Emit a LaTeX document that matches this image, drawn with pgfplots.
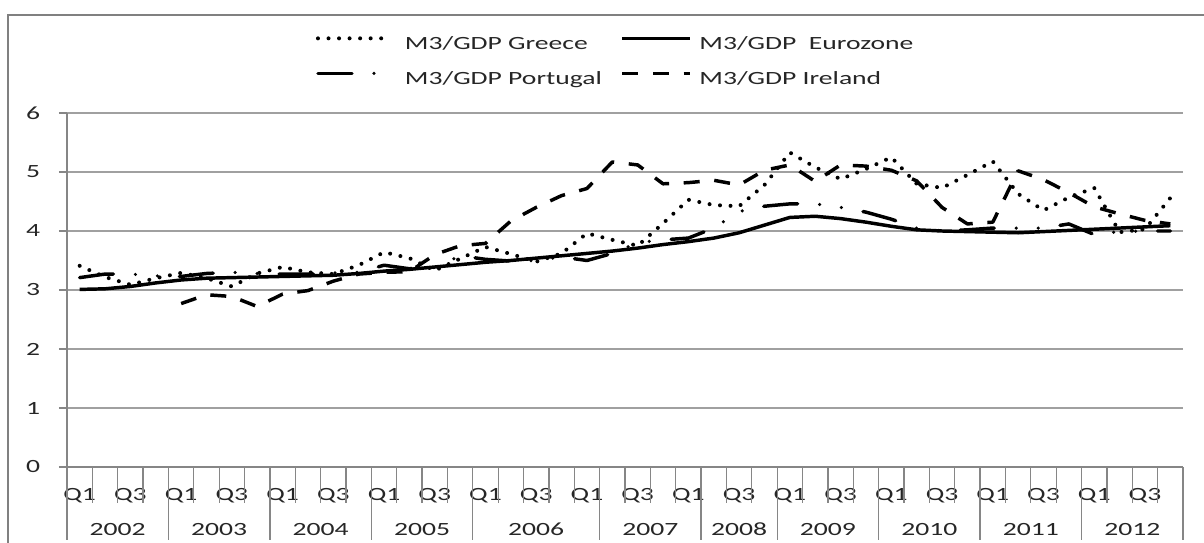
\documentclass[border=0pt]{standalone}
\usepackage{fontspec}
\setmainfont{Carlito}[FakeStretch=1.48]
\usepackage{pgfplots}
\pgfplotsset{compat=1.18}
\usepackage{pgfplotstable}

\definecolor{gridgray}{RGB}{160,160,160}
\definecolor{axgray}{RGB}{134,134,134}
\definecolor{framegray}{RGB}{128,128,128}

% x = quarter index + 0.5 (2002 Q1 = 0.5)
\pgfplotstableread{
x    gr    ez    pt
0.5  3.41  3.01  3.21
1.5  3.22  3.02  3.27
2.5  3.09  3.06  3.27
3.5  3.20  3.12  3.24
4.5  3.29  3.17  3.23
5.5  3.20  3.20  3.28
6.5  3.06  3.21  3.30
7.5  3.28  3.22  3.28
8.5  3.39  3.23  3.27
9.5  3.30  3.24  3.27
10.5 3.27  3.25  3.29
11.5 3.42  3.28  3.30
12.5 3.64  3.32  3.42
13.5 3.54  3.35  3.36
14.5 3.33  3.39  3.38
15.5 3.53  3.43  3.58
16.5 3.73  3.47  3.52
17.5 3.61  3.50  3.49
18.5 3.48  3.54  3.50
19.5 3.62  3.58  3.56
20.5 3.96  3.62  3.50
21.5 3.85  3.66  3.62
22.5 3.75  3.71  3.80
23.5 4.13  3.77  3.85
24.5 4.53  3.82  3.88
25.5 4.44  3.88  4.05
26.5 4.42  3.97  4.33
27.5 4.78  4.10  4.42
28.5 5.33  4.23  4.46
29.5 5.08  4.25  4.46
30.5 4.88  4.21  4.40
31.5 5.05  4.15  4.32
32.5 5.25  4.08  4.20
33.5 4.80  4.02  4.05
34.5 4.73  4.00  4.00
35.5 4.95  3.99  4.02
36.5 5.18  3.98  4.05
37.5 4.63  3.97  4.05
38.5 4.35  3.99  4.05
39.5 4.57  4.01  4.12
40.5 4.73  4.03  3.94
41.5 3.98  4.05  3.99
42.5 4.03  4.07  4.00
43.5 4.56  4.09  4.00
}\maindata

\pgfplotstableread{
x    ie
4.5  2.77
5.5  2.92
6.5  2.89
7.5  2.72
8.5  2.93
9.5  2.99
10.5 3.15
11.5 3.27
12.5 3.30
13.5 3.31
14.5 3.60
15.5 3.75
16.5 3.79
17.5 4.17
18.5 4.40
19.5 4.60
20.5 4.72
21.5 5.17
22.5 5.12
23.5 4.80
24.5 4.82
25.5 4.86
26.5 4.78
27.5 5.03
28.5 5.12
29.5 4.84
30.5 5.12
31.5 5.10
32.5 5.03
33.5 4.85
34.5 4.40
35.5 4.12
36.5 4.15
37.5 5.02
38.5 4.87
39.5 4.65
40.5 4.41
41.5 4.29
42.5 4.18
43.5 4.12
}\irelanddata

\begin{document}
\begin{tikzpicture}[font=\fontsize{14}{17}\selectfont]
\useasboundingbox (-50.25pt,-57pt) rectangle (852.75pt,350.25pt);
\draw[framegray, line width=2.2pt] (-44.25pt,-70pt) -- (-44.25pt,339pt) -- (870pt,339pt);
\begin{axis}[
  at={(0pt,0pt)}, anchor=south west,
  scale only axis, width=837pt, height=265.5pt,
  xmin=0, xmax=44, ymin=0, ymax=6,
  axis x line=bottom, axis y line=left,
  axis line style={-, axgray, line width=1pt},
  /pgf/number format/assume math mode=true,
  ytick={0,1,2,3,4,5,6},
  ymajorgrids, grid style={gridgray, line width=1pt},
  y tick style={axgray, line width=1pt},
  tick align=outside, major tick length=6pt,
  xtick={0.5,2.5,...,42.5},
  xticklabels={Q1,Q3,Q1,Q3,Q1,Q3,Q1,Q3,Q1,Q3,Q1,Q3,Q1,Q3,Q1,Q3,Q1,Q3,Q1,Q3,Q1,Q3},
  x tick style={draw=none},
  tick label style={font=\fontsize{14}{17}\selectfont, text=black!85},
  xticklabel style={anchor=base, inner sep=0pt, yshift=-18.75pt},
  yticklabel style={anchor=east, inner sep=0pt, xshift=-14pt},
  clip=false,
  no markers,
  legend columns=2,
  legend cell align=left,
  legend image code/.code={\draw[#1] (0pt,4.5pt) -- (51pt,4.5pt);},
  legend style={
    at={(0.2231,1.2175)}, anchor=north west, draw=none, fill=none,
    font=\fontsize{14}{17}\selectfont, text=black!85,
    inner sep=0pt, outer sep=0pt,
    nodes={inner sep=0pt, text height=10pt, text depth=2.5pt},
    row sep=13.75pt,
    /tikz/column 1/.style={column sep=12.75pt},
    /tikz/column 2/.style={column sep=14pt},
    /tikz/column 3/.style={column sep=5.5pt},
  },
]
\addplot[black, line width=3pt, line cap=round, line join=round, dash pattern=on 0pt off 7.9pt]
  table[x=x, y=gr] {\maindata};
\addlegendentry{M3/GDP Greece}
\addplot[black, line width=2.6pt, line join=round]
  table[x=x, y=ez] {\maindata};
\addlegendentry{M3/GDP~ Eurozone}
\addplot[black, line width=2.6pt, line cap=round, line join=round, dash pattern=on 25.5pt off 16.5pt on 0pt off 16.5pt on 0pt off 16.5pt]
  table[x=x, y=pt] {\maindata};
\addlegendentry{M3/GDP Portugal}
\addplot[black, line width=2.6pt, line join=round, dash pattern=on 12pt off 11pt]
  table[x=x, y=ie] {\irelanddata};
\addlegendentry{M3/GDP Ireland}

% category boundary ticks
\foreach \k in {1,2,3,5,6,7,9,10,11,13,14,15,17,18,19,20,22,23,24,26,27,29,30,31,33,34,35,37,38,39,41,42,43} {
  \edef\temp{\noexpand\draw[axgray, line width=1pt] (axis cs:\k,0) -- ++(0pt,-27pt);}\temp
}
% year boundaries
\foreach \k in {0,4,8,12,16,21,25,28,32,36,40,44} {
  \edef\temp{\noexpand\draw[axgray, line width=1pt] (axis cs:\k,0) -- ++(0pt,-55pt);}\temp
}
% year labels
\foreach \c/\yr in {2/2002,6/2003,10/2004,14/2005,18.5/2006,23/2007,26.5/2008,30/2009,34/2010,38/2011,42/2012} {
  \edef\temp{\noexpand\node[anchor=base, inner sep=0pt, text=black!85] at (axis cs:\c,0) [yshift=-51pt] {\yr};}\temp
}
\end{axis}
\end{tikzpicture}
\end{document}
